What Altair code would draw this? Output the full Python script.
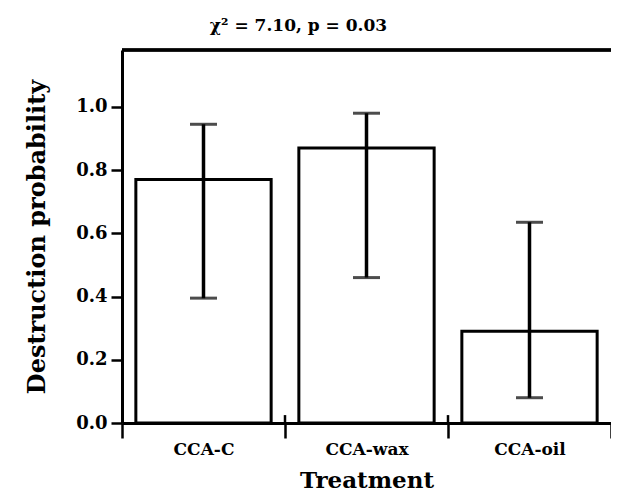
import altair as alt
import pandas as pd

treatments = ["CCA-C", "CCA-wax", "CCA-oil"]
probability = [0.77, 0.87, 0.29]
ci_low = [0.395, 0.46, 0.08]
ci_high = [0.945, 0.98, 0.635]
y_ticks = [0.0, 0.2, 0.4, 0.6, 0.8, 1.0]
y_max = 1.18

df = pd.DataFrame({"Treatment": treatments, "p": probability, "lo": ci_low, "hi": ci_high})
div_df = pd.DataFrame({"Treatment": treatments[1:]})

FONT = "DejaVu Serif"
W, H = 489, 373

xenc = alt.X("Treatment:N", sort=treatments,
             scale=alt.Scale(paddingInner=0, paddingOuter=0),
             axis=alt.Axis(title="Treatment", labelAngle=0, tickBand="extent",
                           tickSize=15, tickWidth=2.5, tickColor="black",
                           domainWidth=3, domainColor="black",
                           labelFont=FONT, labelFontWeight="bold", labelFontSize=17,
                           labelColor="black", labelPadding=3,
                           titleFont=FONT, titleFontWeight="bold", titleFontSize=23,
                           titleColor="black", titlePadding=12))
yscale = alt.Scale(domain=[0, y_max], nice=False, zero=True)

bars = alt.Chart(df).mark_bar(fill="white", stroke="black", strokeWidth=3,
                              width=alt.RelativeBandSize(0.83)).encode(
    x=xenc,
    y=alt.Y("p:Q", scale=yscale,
            axis=alt.Axis(title="Destruction probability", values=y_ticks, format=".1f",
                          grid=False, tickSize=11, tickWidth=2.5, tickColor="black",
                          domainWidth=3, domainColor="black",
                          labelFont=FONT, labelFontWeight="bold", labelFontSize=18,
                          labelColor="black", labelPadding=4,
                          titleFont=FONT, titleFontWeight="bold", titleFontSize=24,
                          titleColor="black", titlePadding=26)),
)

err = alt.Chart(df).mark_rule(color="black", strokeWidth=3.5).encode(
    x=alt.X("Treatment:N", sort=treatments), y="lo:Q", y2="hi:Q")
cap_lo = alt.Chart(df).mark_tick(color="black", size=27, thickness=3).encode(
    x=alt.X("Treatment:N", sort=treatments), y="lo:Q")
cap_hi = alt.Chart(df).mark_tick(color="black", size=27, thickness=3).encode(
    x=alt.X("Treatment:N", sort=treatments), y="hi:Q")

dividers = alt.Chart(div_df).mark_rule(color="black", strokeWidth=2.5).encode(
    x=alt.X("Treatment:N", sort=treatments, bandPosition=0),
    y=alt.datum(0), y2=alt.datum(0.025))

top_border = alt.Chart(df).mark_rule(color="black", strokeWidth=3).encode(
    y=alt.datum(y_max))

chart = alt.layer(bars, err, cap_lo, cap_hi, dividers, top_border).properties(
    width=W, height=H,
    title=alt.TitleParams("χ² = 7.10, p = 0.03", font=FONT, fontWeight="bold",
                          fontSize=17, color="black", anchor="middle", dx=-68, offset=14),
    autosize=alt.AutoSizeParams(type="none"),
    padding={"left": 114, "top": 42, "right": 0, "bottom": 70},
).configure_view(stroke=None).configure(background="white")

chart.save("out.html", embed_options={"renderer": "svg", "actions": False})
